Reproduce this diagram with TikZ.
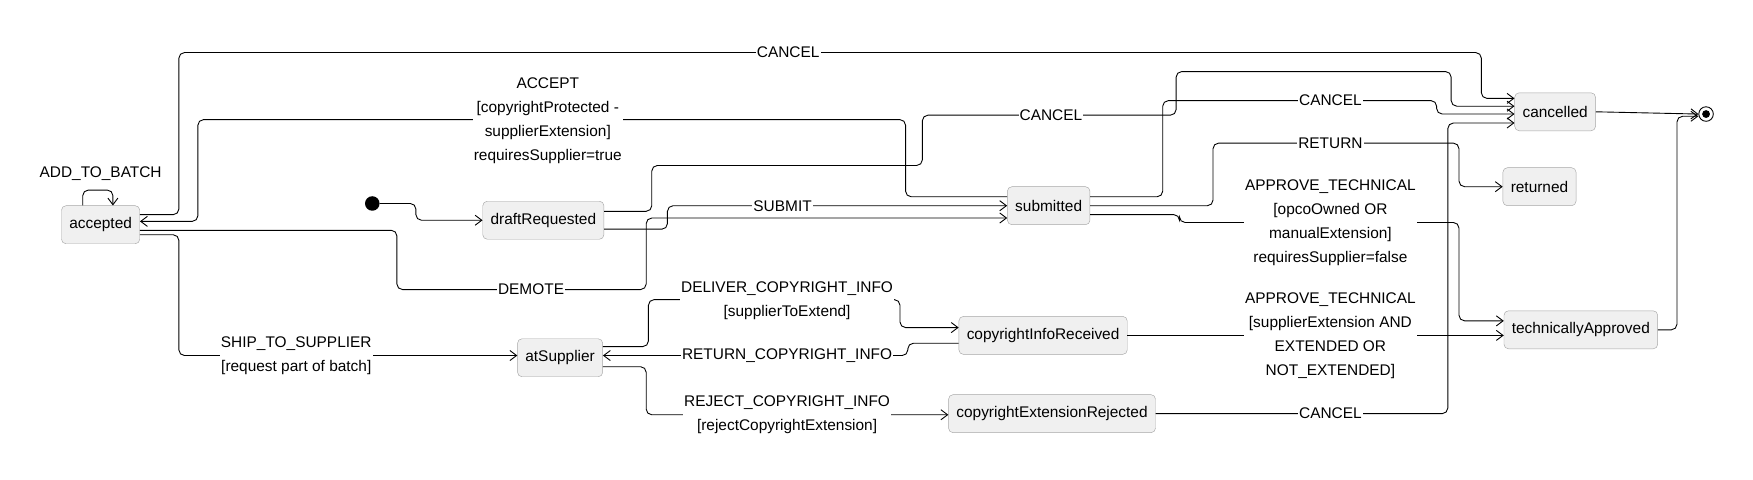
\documentclass[tikz,border=0pt]{standalone}
\usepackage{fontspec}
\setmainfont{Liberation Sans}
\usetikzlibrary{arrows.meta}
\tikzset{
  state/.style={draw=gray!70, fill=gray!12, rounded corners=4pt, minimum height=34pt, inner xsep=7pt, font=\fontsize{13.8}{16}\selectfont},
  tr/.style={draw, rounded corners=5pt, line width=0.8pt},
  arr/.style={tr, -{Straight Barb[length=6pt,width=9pt]}},
  lbl/.style={fill=white, inner sep=1pt, align=center, font=\fontsize{13.8}{21.5}\selectfont}
}
\begin{document}
\begin{tikzpicture}[x=1pt,y=-1pt]
    \useasboundingbox (0,0) rectangle (1568,428.5);
    % states
    \node[state] (acc) at (90,201) {accepted};
    \node[state] (drq) at (486,197) {draftRequested};
    \node[state] (sub) at (938,184) {submitted};
    \node[state] (can) at (1391,100) {cancelled};
    \node[state] (ret) at (1377,167) {returned};
    \node[state] (tap) at (1414,295) {technicallyApproved};
    \node[state] (sup) at (501,320) {atSupplier};
    \node[state] (cir) at (933,300) {copyrightInfoReceived};
    \node[state] (cer) at (941,370) {copyrightExtensionRejected};
    \node[circle, fill=black, inner sep=0pt, minimum size=13pt] (init) at (333,182) {};
    \node[circle, draw, line width=0.8pt, inner sep=0pt, minimum size=13pt] (fin) at (1526,102) {};
    \fill (fin) circle (3.5pt);

    % transitions
    \draw[arr] (acc.north-|74,0) |- (101,170) -- (acc.north-|101,0);
    \draw[arr] (acc.east|-0,192) -| (160,47) -| (1325,88) -- (can.west|-0,88);
    \draw[arr] (sub.west|-0,176) -| (810,107) -| (177,198) -- (acc.east|-0,198);
    \draw[arr] (init) -| (372,197) -- (drq.west);
    \draw[arr] (drq.east|-0,189) -| (583,148) -| (825,103) -| (1052,64) -| (1298,95) -- (can.west|-0,95);
    \draw[arr] (drq.east|-0,205) -| (597,184) -- (sub.west|-0,184);
    \draw[arr] (acc.east|-0,206) -| (355,259) -| (578,195) -- (sub.west|-0,195);
    \draw[arr] (sub.east|-0,176) -| (1040,90) -| (1285,102) -- (can.west|-0,102);
    \draw[arr] (sub.east|-0,184) -| (1085,128) -| (1305,167) -- (ret.west|-0,167);
    \draw[arr] (sub.east|-0,192) -| (1055,199) -| (1305,287) -- (tap.west|-0,287);
    \draw[arr] (cer.east|-0,370) -| (1295,110) -- (can.west|-0,110);
    \draw[arr] (can.east) -- (fin.west);
    \draw[arr] (tap.east) -| (1500,104) -- (fin.west|-0,104);
    \draw[arr] (acc.east|-0,210) -| (160,318) -- (sup.west|-0,318);
    \draw[arr] (sup.east|-0,310) -| (580,268) -| (805,293) -- (cir.west|-0,293);
    \draw[arr] (cir.west|-0,307) -| (812,318) -- (sup.east|-0,318);
    \draw[arr] (sup.east|-0,328) -| (578,371) -- (cer.west|-0,371);
    \draw[arr] (cir.east|-0,300) -- (tap.west|-0,300);

    % labels
    \node[lbl] (lbatch) at (90,155) {ADD\_TO\_BATCH};
    \node[lbl] (lcan1) at (705,47) {CANCEL};
    \node[lbl] (lacc) at (490,108) {ACCEPT\\{[copyrightProtected -}\\{supplierExtension]}\\requiresSupplier=true};
    \node[lbl] (lcan2) at (940,103) {CANCEL};
    \node[lbl] (lsubm) at (700,184) {SUBMIT};
    \node[lbl] (ldem) at (475,259) {DEMOTE};
    \node[lbl] (lcan3) at (1190,90) {CANCEL};
    \node[lbl] (lret) at (1190,128) {RETURN};
    \node[lbl] (lapp1) at (1190,199) {APPROVE\_TECHNICAL\\{[opcoOwned OR}\\{manualExtension]}\\requiresSupplier=false};
    \node[lbl] (lship) at (265,318) {SHIP\_TO\_SUPPLIER\\{[request part of batch]}};
    \node[lbl] (ldel) at (704,269) {DELIVER\_COPYRIGHT\_INFO\\{[supplierToExtend]}};
    \node[lbl] (lrci) at (704,318) {RETURN\_COPYRIGHT\_INFO};
    \node[lbl] (lrej) at (704,371) {REJECT\_COPYRIGHT\_INFO\\{[rejectCopyrightExtension]}};
    \node[lbl] (lapp2) at (1190,300) {APPROVE\_TECHNICAL\\{[supplierExtension AND}\\{EXTENDED OR}\\{NOT\_EXTENDED]}};
    \node[lbl] (lcan4) at (1190,370) {CANCEL};
\end{tikzpicture}
\end{document}
